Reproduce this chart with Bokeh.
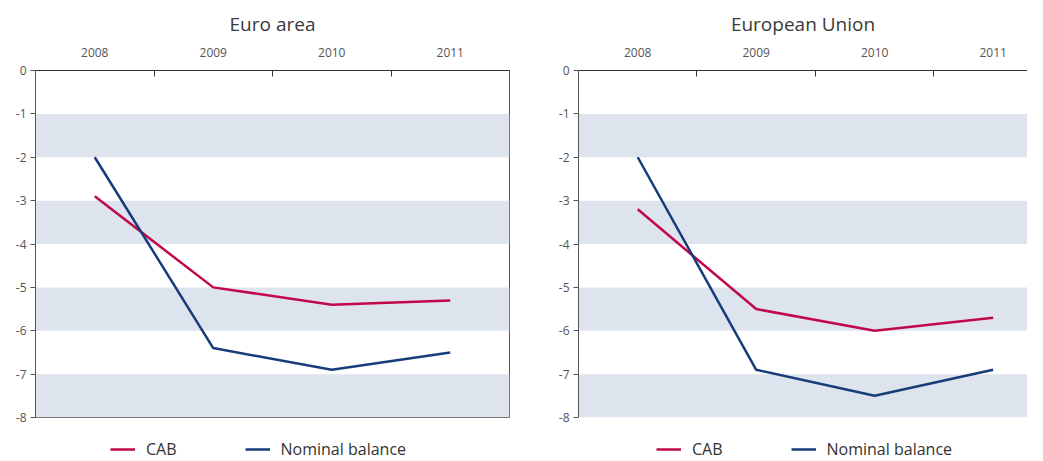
from bokeh.plotting import figure
from bokeh.layouts import row, column
from bokeh.models import Range1d, FixedTicker, BoxAnnotation, Legend, LegendItem
from bokeh.embed import file_html
from bokeh.resources import INLINE

years = ["2008", "2009", "2010", "2011"]
ea_cab = [-2.9, -5.0, -5.4, -5.3]
ea_nominal = [-2.0, -6.4, -6.9, -6.5]
eu_cab = [-3.2, -5.5, -6.0, -5.7]
eu_nominal = [-2.0, -6.9, -7.5, -6.9]
y_ticks = [-8, -7, -6, -5, -4, -3, -2, -1, 0]
band_bottoms = [-2, -4, -6, -8]
series_names = ["CAB", "Nominal balance"]

CAB_COLOR = "#c0084a"
NOM_COLOR = "#173c7a"
BAND_COLOR = "#dee4ee"
FONT = "Open Sans"

xs = [i + 0.5 for i in range(len(years))]


def make_panel(title, cab, nom, width, x_end, border_left, border_right, outline):
    p = figure(width=width, height=427, output_backend="svg", toolbar_location=None,
               x_range=Range1d(0, x_end), y_range=Range1d(-8, 0),
               x_axis_location="above", min_border_left=border_left,
               min_border_right=border_right, min_border_top=12, min_border_bottom=10)
    p.title.text = title
    p.title.align = "center"
    p.title.text_font = FONT
    p.title.text_font_size = "19px"
    p.title.text_font_style = "normal"
    p.title.text_color = "#3a3a3a"
    p.title.standoff = 16
    p.xgrid.visible = False
    p.ygrid.visible = False
    p.outline_line_color = outline
    p.outline_line_width = 1

    for b in band_bottoms:
        p.add_layout(BoxAnnotation(bottom=b, top=b + 1, fill_color=BAND_COLOR,
                                   fill_alpha=1.0, line_alpha=0, level="underlay"))

    xa = p.xaxis[0]
    xa.ticker = FixedTicker(ticks=xs, minor_ticks=[1, 2, 3])
    xa.major_label_overrides = {x: y for x, y in zip(xs, years)}
    xa.major_tick_in = 0
    xa.major_tick_out = 0
    xa.minor_tick_in = 6
    xa.minor_tick_out = 0
    xa.minor_tick_line_color = "#333333"
    xa.axis_line_color = "#333333"
    xa.major_label_text_font = FONT
    xa.major_label_text_font_size = "12px"
    xa.major_label_text_color = "#555555"
    xa.major_label_standoff = 14

    ya = p.yaxis[0]
    ya.ticker = FixedTicker(ticks=y_ticks, minor_ticks=[])
    ya.major_label_overrides = {t: str(t) for t in y_ticks}
    ya.major_tick_in = 0
    ya.major_tick_out = 5
    ya.minor_tick_in = 0
    ya.minor_tick_out = 0
    ya.axis_line_color = "#555555"
    ya.major_tick_line_color = "#555555"
    ya.major_label_text_font = FONT
    ya.major_label_text_font_size = "12px"
    ya.major_label_text_color = "#555555"
    ya.major_label_standoff = 4

    p.line(xs, cab, line_color=CAB_COLOR, line_width=2.5)
    p.line(xs, nom, line_color=NOM_COLOR, line_width=2.5)
    return p


def make_legend(width, x_off):
    q = figure(width=width, height=33, output_backend="svg", toolbar_location=None,
               x_range=Range1d(0, 1), y_range=Range1d(0, 1),
               min_border=0, x_axis_type=None, y_axis_type=None)
    q.outline_line_color = None
    q.xgrid.visible = False
    q.ygrid.visible = False
    # off-range points: only the legend swatches of these lines are visible
    r1 = q.line(x=[5, 6], y=[5, 6], line_color=CAB_COLOR, line_width=2.5)
    r2 = q.line(x=[5, 6], y=[5, 6], line_color=NOM_COLOR, line_width=2.5)
    leg = Legend(items=[LegendItem(label=series_names[0], renderers=[r1]),
                        LegendItem(label=series_names[1], renderers=[r2])],
                 orientation="horizontal", location=(x_off, 0),
                 border_line_alpha=0, background_fill_alpha=0,
                 label_text_font=FONT, label_text_font_size="16px",
                 label_text_color="#333333", glyph_width=25, glyph_height=20,
                 label_height=20, label_standoff=11,
                 spacing=68, padding=0, margin=0)
    q.add_layout(leg, "center")
    return q


p1 = make_panel("Euro area", ea_cab, ea_nominal, 540, 4, 35, 31, "#555555")
p2 = make_panel("European Union", eu_cab, eu_nominal, 487, 3.79, 38, 0, None)
l1 = make_legend(540, 110)
l2 = make_legend(487, 116)
layout = column(row(p1, p2), row(l1, l2))

open("out.html", "w").write(file_html(layout, INLINE))
